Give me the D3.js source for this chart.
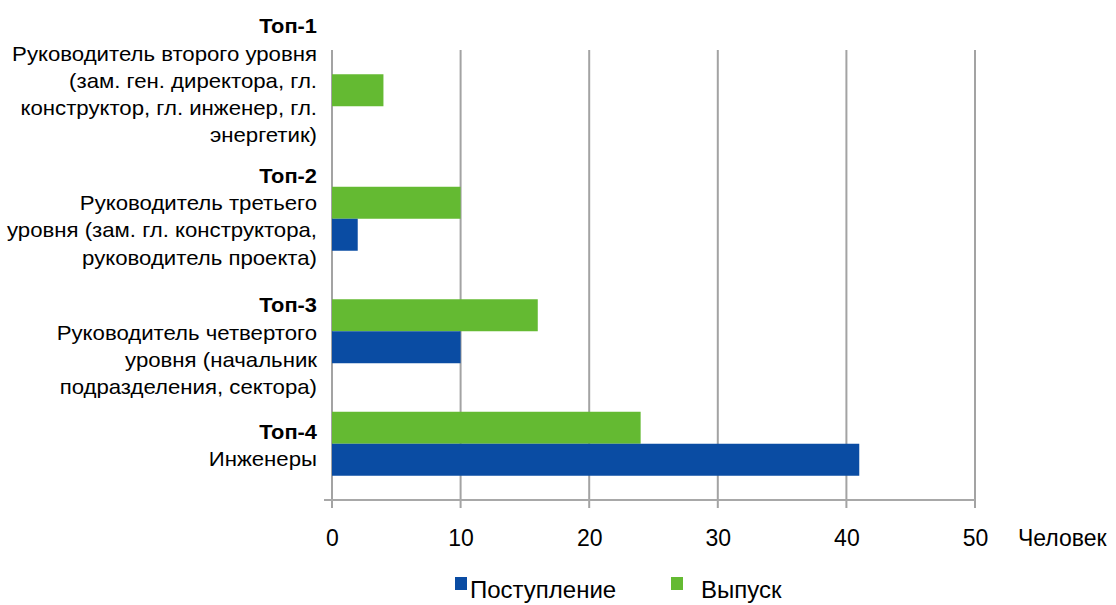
<!DOCTYPE html>
<html lang="ru">
<head>
<meta charset="utf-8">
<script src="https://cdn.jsdelivr.net/npm/d3@7"></script>
<style>
  html, body { margin: 0; padding: 0; background: #fff; }
  svg { display: block; font-family: "Liberation Sans", Arial, sans-serif; }
</style>
</head>
<body>
<svg id="chart" width="1116" height="605"></svg>
<script>
// Staff levels and their descriptions
const categories = ["Топ-1", "Топ-2", "Топ-3", "Топ-4"];
const descriptions = [
  ["Руководитель второго уровня", "(зам. ген. директора, гл.", "конструктор, гл. инженер, гл.", "энергетик)"],
  ["Руководитель третьего", "уровня (зам. гл. конструктора,", "руководитель проекта)"],
  ["Руководитель четвертого", "уровня (начальник", "подразделения, сектора)"],
  ["Инженеры"]
];

// Number of people per level
const seriesNames = ["Поступление", "Выпуск"];
const admission = [0, 2, 10, 41];
const release = [4, 10, 16, 24];

const tickValues = [0, 10, 20, 30, 40, 50];
const unitLabel = "Человек";

// Colours
const colors = { "Поступление": "#0a4ca3", "Выпуск": "#64ba32" };

// Layout
const plot = { left: 332, right: 975, top: 50, bottom: 500 };
const labelRight = 317;
const lineStep = 27.3;
const labelDy = [-73, -36, -19, -5];

const svg = d3.select("#chart");

const x = d3.scaleLinear().domain([0, 50]).range([plot.left, plot.right]);
const y = d3.scaleBand().domain(categories).range([plot.top, plot.bottom]);
const sub = d3.scaleBand()
  .domain(["Выпуск", "Поступление"])
  .range([0, y.bandwidth()])
  .paddingInner(0)
  .paddingOuter(0.758);

// Vertical grid lines
svg.append("g")
  .selectAll("line")
  .data(tickValues)
  .join("line")
  .attr("x1", d => x(d)).attr("x2", d => x(d))
  .attr("y1", plot.top).attr("y2", plot.bottom + 8)
  .attr("stroke", "#a3a3a3")
  .attr("stroke-width", 2);

// Horizontal axis line
svg.append("line")
  .attr("x1", plot.left - 8).attr("x2", plot.right)
  .attr("y1", plot.bottom).attr("y2", plot.bottom)
  .attr("stroke", "#a8a8a8")
  .attr("stroke-width", 2);

// Bars
const rows = categories.map((c, i) => ({
  cat: c,
  values: [
    { series: "Выпуск", value: release[i] },
    { series: "Поступление", value: admission[i] }
  ]
}));

svg.append("g")
  .selectAll("g")
  .data(rows)
  .join("g")
  .attr("transform", d => `translate(0,${y(d.cat)})`)
  .selectAll("rect")
  .data(d => d.values.filter(v => v.value > 0))
  .join("rect")
  .attr("x", x(0))
  .attr("y", d => sub(d.series))
  .attr("width", d => x(d.value) - x(0))
  .attr("height", sub.bandwidth())
  .attr("fill", d => colors[d.series]);

// X axis tick labels
const axis = d3.axisBottom(x).tickValues(tickValues).tickSize(0).tickPadding(0);
const axisG = svg.append("g")
  .attr("transform", `translate(0,${plot.bottom})`)
  .call(axis);
axisG.select(".domain").remove();
axisG.selectAll("text")
  .attr("dy", null)
  .attr("y", 46)
  .attr("font-size", 23)
  .attr("font-family", "Liberation Sans, Arial, sans-serif")
  .attr("fill", "#000");

svg.append("text")
  .attr("x", 1018).attr("y", 546)
  .attr("font-size", 23)
  .attr("fill", "#000")
  .text(unitLabel);

// Category labels: bold title then description lines, right aligned
categories.forEach((c, i) => {
  const first = y(c) + y.bandwidth() / 2 + labelDy[i];
  const lines = [c, ...descriptions[i]];
  svg.append("g")
    .selectAll("text")
    .data(lines)
    .join("text")
    .attr("transform", (d, j) =>
      `translate(${labelRight},${first + j * lineStep}) scale(${j === 0 ? 1.04 : 1.11},1)`)
    .attr("text-anchor", "end")
    .attr("font-size", (d, j) => j === 0 ? 21 : 20)
    .attr("font-weight", (d, j) => j === 0 ? "bold" : "normal")
    .attr("fill", "#000")
    .text(d => d);
});

// Legend
const legendItems = [
  { name: "Поступление", x: 455, gap: 15 },
  { name: "Выпуск", x: 671, gap: 30 }
];
const legend = svg.append("g")
  .selectAll("g")
  .data(legendItems)
  .join("g")
  .attr("transform", d => `translate(${d.x},0)`);
legend.append("rect")
  .attr("x", 0).attr("y", 577)
  .attr("width", 12).attr("height", 13)
  .attr("fill", d => colors[d.name]);
legend.append("text")
  .attr("x", d => d.gap).attr("y", 598)
  .attr("font-size", 24)
  .attr("fill", "#000")
  .text(d => d.name);
</script>
</body>
</html>
